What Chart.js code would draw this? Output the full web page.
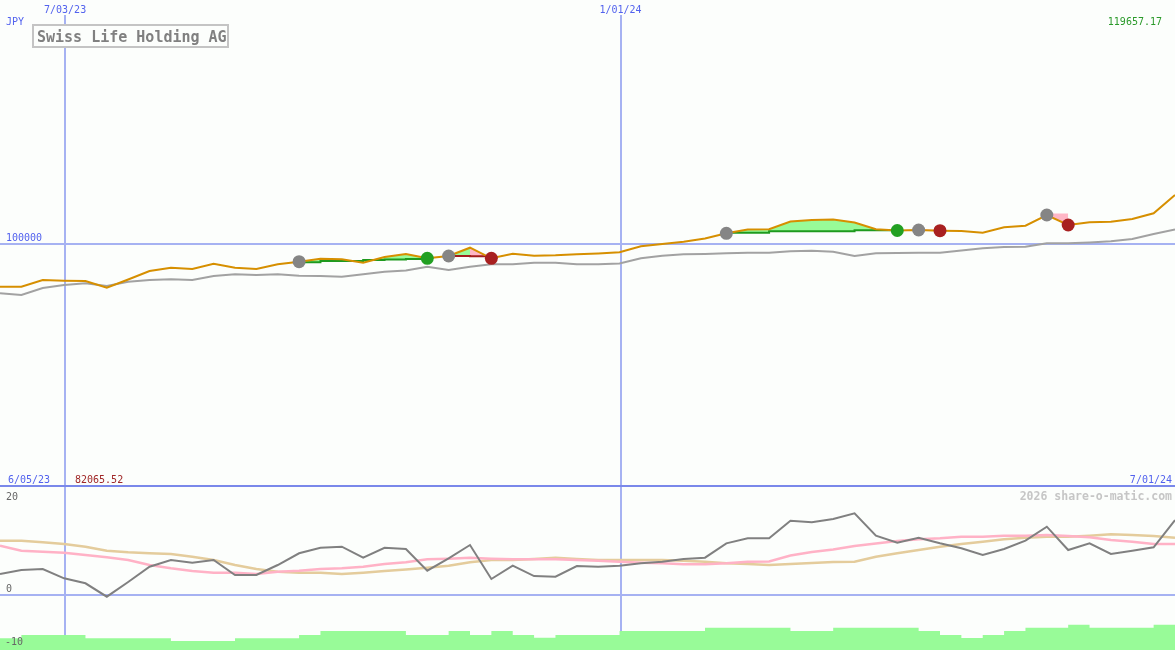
<!DOCTYPE html>
<html>
<head>
<meta charset="utf-8">
<title>Swiss Life Holding AG</title>
<script src="https://cdn.jsdelivr.net/npm/chart.js@4.4.1/dist/chart.umd.min.js"></script>
<style>
  html, body { margin: 0; padding: 0; background: #fcfefc; }
  canvas { display: block; }
</style>
</head>
<body>
<canvas id="chart" width="1175" height="650"></canvas>
<script>
// weekly closes, one label per Monday
const weeks = [
  '6/12/23', '6/19/23', '6/26/23', '7/03/23', '7/10/23', '7/17/23', '7/24/23', '7/31/23',
  '8/07/23', '8/14/23', '8/21/23', '8/28/23', '9/04/23', '9/11/23', '9/18/23', '9/25/23',
  '10/02/23', '10/09/23', '10/16/23', '10/23/23', '10/30/23', '11/06/23', '11/13/23', '11/20/23',
  '11/27/23', '12/04/23', '12/11/23', '12/18/23', '12/25/23', '1/01/24', '1/08/24', '1/15/24',
  '1/22/24', '1/29/24', '2/05/24', '2/12/24', '2/19/24', '2/26/24', '3/04/24', '3/11/24',
  '3/18/24', '3/25/24', '4/01/24', '4/08/24', '4/15/24', '4/22/24', '4/29/24', '5/06/24',
  '5/13/24', '5/20/24', '5/27/24', '6/03/24', '6/10/24', '6/17/24', '6/24/24', '7/01/24'
];

// price in JPY
const price = [
  96522, 96522, 97047, 96992, 96969, 96444, 97086, 97757,
  98019, 97916, 98337, 98019, 97916, 98289, 98497, 98736,
  98688, 98417, 98872, 99113, 98768, 98953, 99620, 98768,
  99137, 98977, 99009, 99089, 99153, 99250, 99733, 99919,
  100105, 100365, 100789, 101100, 101116, 101757, 101880, 101922,
  101674, 101116, 101018, 101059, 101001, 100977, 100838, 101280,
  101411, 102294, 101469, 101691, 101740, 101963, 102435, 103965
];

// slow moving average (grey)
const trend = [
  96007, 95876, 96421, 96655, 96788, 96576, 96914, 97047,
  97102, 97047, 97362, 97496, 97441, 97496, 97386, 97362,
  97307, 97496, 97702, 97797, 98098, 97837, 98098, 98289,
  98289, 98417, 98417, 98289, 98289, 98353, 98768, 98977,
  99089, 99113, 99169, 99217, 99217, 99330, 99378, 99298,
  98953, 99169, 99193, 99217, 99217, 99394, 99572, 99677,
  99700, 99976, 99976, 100041, 100138, 100325, 100732, 101100
];

// oscillator panel
const oscMain = [
  3.96, 4.72, 4.91, 3.15, 2.21, -0.32, 2.45, 5.34,
  6.60, 6.09, 6.60, 3.77, 3.77, 5.66, 7.87, 8.92,
  9.11, 7.04, 8.92, 8.68, 4.58, 6.92, 9.43, 3.02,
  5.53, 3.58, 3.45, 5.47, 5.34, 5.53, 5.98, 6.28,
  6.79, 7.04, 9.75, 10.70, 10.70, 14.02, 13.72, 14.34,
  15.42, 11.19, 9.87, 10.81, 9.75, 8.81, 7.55, 8.68,
  10.25, 12.89, 8.49, 9.75, 7.74, 8.36, 9.00, 14.15
];
const oscFast = [
  9.30, 8.36, 8.17, 7.98, 7.55, 7.11, 6.60, 5.66,
  5.04, 4.53, 4.21, 4.21, 3.96, 4.40, 4.58, 4.91,
  5.04, 5.34, 5.85, 6.20, 6.74, 6.85, 7.04, 6.85,
  6.74, 6.74, 6.74, 6.60, 6.47, 6.28, 6.09, 5.98,
  5.79, 5.79, 5.98, 6.28, 6.32, 7.45, 8.11, 8.58,
  9.25, 9.72, 10.19, 10.51, 10.70, 11.00, 11.00, 11.19,
  11.19, 11.32, 11.13, 10.89, 10.38, 10.06, 9.62, 9.62
];
const oscSlow = [
  10.25, 10.25, 9.94, 9.62, 9.11, 8.36, 8.06, 7.87,
  7.74, 7.23, 6.60, 5.66, 4.91, 4.40, 4.21, 4.21,
  3.96, 4.21, 4.53, 4.81, 5.15, 5.53, 6.17, 6.60,
  6.60, 6.79, 7.04, 6.79, 6.60, 6.60, 6.60, 6.60,
  6.47, 6.28, 5.98, 5.85, 5.66, 5.85, 6.04, 6.23,
  6.28, 7.23, 7.87, 8.49, 9.11, 9.62, 10.06, 10.51,
  10.81, 11.00, 11.00, 11.19, 11.45, 11.32, 11.13, 10.81
];

// weekly volume (thousand shares)
const volume = [
  117, 150, 150, 150, 117, 117, 117, 117,
  90, 90, 90, 117, 117, 117, 150, 190,
  190, 190, 190, 150, 150, 190, 150, 190,
  150, 123, 150, 150, 150, 190, 190, 190,
  190, 223, 223, 223, 223, 190, 190, 223,
  223, 223, 223, 190, 150, 120, 150, 190,
  223, 223, 253, 223, 223, 223, 253, 253
];

// trades: stop level week by week from entry to exit
const stopWin1 = [98449, 98553, 98553, 98632, 98672, 98712, 98768];        // from 9/18/23
const stopLoss1 = [98950, 98930, 98870];                                   // from 11/06/23
const stopWin2 = [100838, 100838, 100952, 100952, 100952, 100952, 101034, 101034, 101018]; // from 2/05/24
const stopLoss2 = [101100, 101100];                                        // from 4/08/24
const stopLoss3 = [102418, 102418];                                        // from 5/20/24

const entryWeeks = ['9/18/23', '11/06/23', '2/05/24', '4/08/24', '5/20/24'];
const winWeeks = ['10/30/23', '4/01/24'];
const lossWeeks = ['11/20/23', '4/15/24', '5/27/24'];

const markerDates = ['7/03/23', '1/01/24'];
const priceRef = 100000;
const priceTop = '119657.17';
const priceBottom = 82065.52;
const rangeStart = '6/05/23';
const oscTicks = [20, 0, -10];

const BG = '#fcfefc';
const LIGHT_GREEN = '#98fb98';
const PINK = '#ffb6c6';

const place = (start, values) => {
  const out = weeks.map(() => null);
  const s = weeks.indexOf(start);
  values.forEach((v, k) => { out[s + k] = v; });
  return out;
};
const pick = (list) => weeks.map((w, i) => list.includes(w) ? price[i] : null);

const trades = [
  { start: '9/18/23', stop: stopWin1, win: true, line: true },
  { start: '11/06/23', stop: stopLoss1, win: false, line: true },
  { start: '2/05/24', stop: stopWin2, win: true, line: true },
  { start: '4/08/24', stop: stopLoss2, win: false, line: false },
  { start: '5/20/24', stop: stopLoss3, win: false, line: false },
];

const datasets = [];
const PRICE_IDX = 0;
datasets.push({
  label: 'price', data: price, yAxisID: 'y', borderColor: '#d68f00', borderWidth: 2,
  pointRadius: 0, order: 2
});
datasets.push({
  label: 'trend', data: trend, yAxisID: 'y', borderColor: '#a2a2a2', borderWidth: 2,
  pointRadius: 0, order: 6
});

trades.forEach(t => {
  const s = weeks.indexOf(t.start);
  const fillSet = (start, vals, color) => datasets.push({
    data: place(start, vals), yAxisID: 'y', borderWidth: 0, pointRadius: 0, stepped: true,
    fill: { target: PRICE_IDX, above: color, below: color }, order: 5
  });
  if (t.win) {
    fillSet(t.start, t.stop, LIGHT_GREEN);
  } else {
    if (t.stop.length > 2) fillSet(t.start, t.stop.slice(0, -1), LIGHT_GREEN);
    fillSet(weeks[s + t.stop.length - 2], t.stop.slice(-2), PINK);
  }
  if (t.line) {
    datasets.push({
      data: place(t.start, t.stop), yAxisID: 'y', stepped: true, pointRadius: 0,
      borderColor: t.win ? '#1e9a1e' : '#a21c1c', borderWidth: 2, order: 3
    });
  }
});

const markerSet = (list, color) => ({
  data: pick(list), yAxisID: 'y', showLine: false, pointRadius: 6.5, pointHoverRadius: 6.5,
  pointBackgroundColor: color, pointBorderWidth: 0, order: 1
});
datasets.push(markerSet(entryWeeks, '#858585'));
datasets.push(markerSet(winWeeks, '#22a022'));
datasets.push(markerSet(lossWeeks, '#a82020'));

datasets.push({ data: oscMain, yAxisID: 'yOsc', borderColor: '#808080', borderWidth: 2, pointRadius: 0, order: 7 });
datasets.push({ data: oscFast, yAxisID: 'yOsc', borderColor: '#ffb2c6', borderWidth: 2.5, pointRadius: 0, order: 8 });
datasets.push({ data: oscSlow, yAxisID: 'yOsc', borderColor: '#e4cc9c', borderWidth: 2.5, pointRadius: 0, order: 9 });
datasets.push({
  data: volume, yAxisID: 'yVol', stepped: true, borderWidth: 0, pointRadius: 0,
  backgroundColor: LIGHT_GREEN, fill: 'origin', order: 10
});

const MONO = '"DejaVu Sans Mono", "Liberation Mono", monospace';

const overlay = {
  id: 'overlay',
  beforeDatasetsDraw(chart) {
    const { ctx, scales } = chart;
    const W = chart.width, H = chart.height;
    ctx.save();
    ctx.fillStyle = '#a6b2f2';
    markerDates.forEach(d => {
      const px = Math.round(scales.x.getPixelForValue(weeks.indexOf(d)));
      ctx.fillRect(px, 15, 2, H);
    });
    ctx.fillRect(0, Math.round(scales.y.getPixelForValue(priceRef)), W, 2);
    ctx.fillRect(0, Math.round(scales.yOsc.getPixelForValue(0)) - 1, W, 2);
    ctx.fillStyle = '#7a88ea';
    ctx.fillRect(0, Math.round(scales.y.getPixelForValue(priceBottom)) - 2, W, 2);
    ctx.restore();
  },
  afterDatasetsDraw(chart) {
    const { ctx, scales } = chart;
    const W = chart.width;
    const sep = Math.round(scales.y.getPixelForValue(priceBottom));
    ctx.save();
    ctx.font = '10px ' + MONO;
    ctx.textBaseline = 'alphabetic';

    ctx.fillStyle = '#5262ee';
    ctx.textAlign = 'center';
    markerDates.forEach(d => {
      ctx.fillText(d, scales.x.getPixelForValue(weeks.indexOf(d)) + 1, 13);
    });
    ctx.textAlign = 'left';
    ctx.fillText('JPY', 6, 25);
    ctx.fillText(String(priceRef), 6, scales.y.getPixelForValue(priceRef) - 2);
    ctx.fillText(rangeStart, 8, sep - 4);
    ctx.textAlign = 'right';
    ctx.fillText(weeks[weeks.length - 1], W - 3, sep - 4);

    ctx.fillStyle = '#2a9a2a';
    ctx.fillText(priceTop, W - 13, 25);

    ctx.textAlign = 'left';
    ctx.fillStyle = '#a02828';
    ctx.fillText(priceBottom.toFixed(2), 75, sep - 4);

    ctx.fillStyle = '#666666';
    oscTicks.forEach(v => {
      const py = Math.max(scales.yOsc.getPixelForValue(v) - 3, sep + 13);
      ctx.fillText(String(v), v < 0 ? 5 : 6, Math.min(py, 646));
    });

    ctx.font = 'bold 11.5px ' + MONO;
    ctx.fillStyle = '#c6c6c6';
    ctx.textAlign = 'right';
    ctx.fillText('2026 share-o-matic.com', W - 3, sep + 13);

    // title box
    ctx.fillStyle = BG;
    ctx.fillRect(32, 24, 197, 24);
    ctx.strokeStyle = '#c4c4c4';
    ctx.lineWidth = 2;
    ctx.strokeRect(33, 25, 195, 22);
    ctx.font = 'bold 15px ' + MONO;
    ctx.fillStyle = '#808080';
    ctx.textAlign = 'left';
    ctx.fillText('Swiss Life Holding AG', 37, 42);
    ctx.restore();
  }
};

new Chart(document.getElementById('chart'), {
  type: 'line',
  data: { labels: weeks, datasets: datasets },
  options: {
    responsive: false,
    animation: false,
    devicePixelRatio: 1,
    events: [],
    layout: { padding: 0, autoPadding: false },
    elements: { line: { tension: 0, borderCapStyle: 'butt' } },
    plugins: { legend: { display: false }, tooltip: { enabled: false } },
    scales: {
      x: { type: 'category', display: false, offset: false },
      y: { type: 'logarithmic', display: false, min: 71914, max: 121756 },
      yOsc: { type: 'linear', display: false, min: -10.377, max: 112.264 },
      yVol: { type: 'linear', display: false, min: 0, max: 6500 }
    }
  },
  plugins: [overlay]
});
</script>
</body>
</html>
